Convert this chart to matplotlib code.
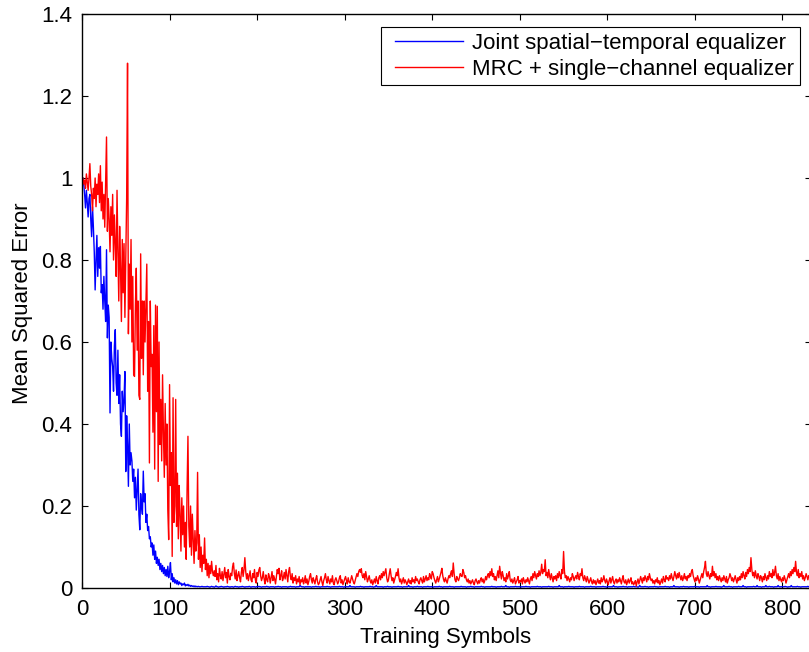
import numpy as np
import matplotlib
matplotlib.use("Agg")
import matplotlib.pyplot as plt
from matplotlib.lines import Line2D
from matplotlib.patches import Rectangle
from matplotlib.ticker import FuncFormatter, MultipleLocator

plt.rcParams['font.family'] = ['Liberation Sans', 'DejaVu Sans']

# Mean squared error per training symbol, stored in units of 1e-3
joint_transient = [
    1000, 985, 960, 927, 970, 940, 905, 950, 960, 900,
    857, 930, 880, 820, 727, 800, 860, 760, 830, 780,
    833, 720, 740, 680, 760, 700, 650, 825, 610, 690,
    660, 427, 600, 560, 540, 480, 590, 630, 500, 470,
    580, 450, 520, 400, 370, 480, 430, 460, 528, 284,
    420, 350, 248, 400, 300, 330, 310, 260, 290, 220,
    270, 190, 240, 290, 179, 142, 230, 200, 180, 285,
    210, 230, 160, 180, 140, 150, 120, 125, 100, 110,
    80, 105, 70, 90, 60, 75, 55, 70, 45, 60,
    40, 55, 35, 50, 30, 45, 28, 53, 25, 40,
    62, 20, 35, 15, 25, 12, 20, 10, 18, 8,
    15, 10, 12, 6, 10, 8, 12, 5, 8, 6,
    9, 5, 7, 4, 6, 4, 5, 3, 5, 3,
    4, 3, 4, 3, 3, 3, 4, 3, 3, 3,
]

joint_steady = [
    3, 3, 4, 3, 3, 2, 3, 4, 3, 3, 2, 3, 5, 3, 3, 2, 3, 3, 4, 3, 3, 2, 3, 3, 3, 4, 3, 3, 2, 3,
    3, 3, 2, 3, 4, 3, 3, 3, 2, 3, 3, 3, 4, 3, 3, 2, 3, 3, 3, 3, 4, 3, 2, 3, 3, 3, 3, 2, 3, 3,
    3, 4, 3, 3, 2, 3, 3, 3, 3, 3, 4, 3, 3, 2, 3, 3, 3, 3, 3, 2, 3, 3, 3, 4, 3, 3, 3, 2, 3, 3,
    3, 3, 3, 3, 2, 3, 3, 4, 3, 3, 3, 3, 3, 2, 3, 3, 3, 3, 6, 4, 3, 3, 3, 2, 3, 3, 3, 3, 3, 3,
    3, 2, 3, 3, 3, 3, 4, 3, 3, 3, 3, 2, 3, 3, 3, 3, 3, 3, 3, 4, 3, 3, 3, 2, 3, 3, 3, 3, 3, 3,
    3, 3, 3, 4, 3, 3, 3, 3, 2, 3, 3, 3, 3, 3, 3, 6, 3, 3, 3, 3, 3, 2, 3, 3, 3, 3, 3, 4, 3, 3,
    3, 2, 3, 3, 3, 3, 3, 3, 4, 3, 3, 3, 2, 3, 3, 6, 3, 3, 3, 3, 3, 3, 3, 2, 3, 3, 3, 3, 4, 3,
    3, 3, 3, 2, 3, 3, 3, 3, 3, 3, 4, 3, 3, 3, 3, 2, 3, 3, 3, 3, 3, 3, 6, 3, 3, 3, 3, 2, 3, 3,
    3, 3, 4, 3, 3, 3, 3, 3, 2, 3, 3, 3, 3, 3, 4, 3, 3, 3, 3, 3, 2, 3, 3, 3, 3, 3, 3, 4, 3, 3,
    3, 2, 3, 3, 3, 3, 3, 3, 3, 4, 3, 3, 3, 3, 2, 3, 3, 3, 3, 3, 3, 3, 4, 3, 3, 3, 3, 3, 2, 3,
    3, 3, 3, 4, 3, 3, 3, 2, 3, 3, 3, 3, 3, 3, 3, 4, 3, 3, 3, 2, 3, 3, 3, 3, 3, 3, 3, 4, 3, 3,
    3, 3, 2, 3, 3, 3, 3, 3, 4, 3, 3, 3, 3, 6, 3, 3, 3, 2, 3, 3, 3, 3, 3, 3, 4, 3, 3, 3, 3, 3,
    2, 3, 3, 3, 3, 3, 4, 3, 3, 3, 3, 2, 3, 3, 3, 3, 3, 3, 3, 4, 3, 3, 3, 3, 2, 3, 3, 3, 3, 3,
    3, 3, 4, 3, 3, 3, 3, 2, 3, 3, 3, 3, 3, 3, 6, 3, 3, 3, 3, 2, 3, 3, 3, 3, 3, 4, 3, 3, 3, 3,
    3, 2, 3, 3, 3, 3, 3, 4, 3, 3, 3, 3, 3, 2, 3, 3, 3, 3, 3, 3, 4, 3, 3, 3, 3, 3, 2, 3, 3, 3,
    3, 3, 3, 3, 4, 3, 3, 3, 2, 3, 3, 3, 3, 3, 3, 3, 6, 3, 3, 3, 3, 2, 3, 3, 3, 3, 3, 4, 3, 3,
    3, 3, 2, 3, 3, 3, 3, 3, 3, 4, 3, 3, 3, 3, 2, 3, 6, 3, 3, 3, 3, 3, 4, 3, 3, 3, 2, 3, 3, 3,
    3, 3, 3, 4, 3, 3, 3, 2, 3, 3, 3, 3, 3, 3, 3, 4, 3, 3, 3, 3, 2, 3, 3, 3, 3, 6, 3, 3, 3, 3,
    3, 2, 3, 3, 3, 3, 4, 3, 3, 3, 3, 3, 2, 3, 3, 3, 3, 3, 3, 4, 3, 3, 3, 3, 2, 3, 3, 3, 3, 3,
    3, 3, 3, 6, 3, 3, 3, 2, 3, 3, 3, 3, 3, 4, 3, 3, 3, 3, 3, 2, 3, 3, 6, 3, 3, 3, 3, 3, 4, 3,
    3, 3, 2, 3, 3, 3, 3, 3, 3, 4, 3, 3, 3, 3, 6, 3, 3, 3, 2, 3, 3, 3, 3, 3, 3, 3, 4, 3, 3, 3,
    6, 3, 3, 3, 3, 2, 3, 3, 3, 3, 6, 3, 3, 3, 4, 3, 3, 3, 3, 2, 3, 3, 3, 3, 6, 3, 3, 3, 3, 3,
    3, 3, 4, 3, 3, 2, 3, 3, 3, 6, 3, 3, 3, 3, 3, 3, 4, 3, 3, 3, 2, 3, 3, 3, 3, 3, 3, 3, 4, 3,
]

mrc_transient = [
    1000, 985, 995, 975, 1010, 990, 970, 1000, 1035, 980,
    960, 920, 975, 950, 1000, 930, 985, 960, 1010, 940,
    1030, 920, 990, 900, 960, 880, 985, 1100, 870, 950,
    900, 820, 930, 860, 960, 800, 910, 840, 760, 970,
    820, 700, 882, 780, 650, 850, 720, 840, 660, 800,
    950, 1280, 620, 790, 680, 850, 600, 760, 520, 516,
    690, 780, 580, 700, 470, 460, 815, 560, 700, 520,
    700, 600, 690, 790, 480, 650, 305, 700, 540, 570,
    380, 640, 290, 690, 430, 687, 260, 600, 350, 460,
    310, 520, 380, 270, 450, 300, 400, 190, 118, 496,
    250, 330, 77, 464, 160, 200, 460, 150, 280, 120,
    250, 180, 90, 220, 130, 200, 100, 160, 70, 240,
    370, 150, 100, 200, 80, 180, 120, 60, 140, 90,
    110, 282, 70, 130, 50, 100, 40, 80, 60, 122,
    45, 70, 30, 60, 25, 55, 35, 65, 40, 30,
]

mrc_steady = [
    42, 28, 55, 20, 35, 15, 48, 30, 22, 40, 18, 33, 50, 25, 38, 12, 45, 28, 20, 36,
    30, 52, 61, 35, 22, 44, 18, 30, 40, 25, 15, 38, 50, 28, 45, 74, 40, 22, 35, 18,
    30, 42, 20, 15, 35, 25, 45, 20, 12, 38, 28, 44, 50, 30, 18, 25, 40, 22, 10, 32,
    20, 15, 35, 28, 12, 25, 40, 18, 30, 22, 10, 28, 45, 35, 48, 20, 30, 42, 18, 25,
    38, 22, 45, 30, 15, 40, 50, 28, 20, 35, 12, 25, 18, 30, 10, 22, 15, 28, 8, 20,
    15, 25, 10, 18, 30, 12, 22, 8, 16, 28, 35, 20, 12, 25, 18, 10, 22, 30, 15, 8,
    12, 20, 28, 15, 6, 18, 25, 35, 20, 12, 28, 18, 10, 22, 15, 30, 12, 8, 20, 25,
    18, 10, 15, 25, 30, 12, 20, 8, 15, 22, 28, 18, 10, 25, 15, 12, 20, 30, 22, 14,
    10, 18, 25, 35, 28, 40, 45, 38, 47, 30, 25, 35, 20, 40, 28, 15, 22, 30, 18, 12,
    20, 8, 15, 22, 12, 28, 18, 10, 25, 30, 20, 35, 25, 40, 30, 38, 47, 25, 15, 20,
    35, 47, 30, 18, 25, 12, 20, 28, 38, 30, 47, 25, 15, 22, 10, 18, 25, 12, 20, 15,
    8, 15, 22, 12, 18, 10, 25, 15, 20, 12, 28, 18, 22, 15, 10, 20, 25, 18, 12, 28,
    15, 22, 30, 18, 25, 20, 35, 28, 22, 40, 35, 25, 18, 12, 20, 28, 15, 22, 30, 38,
    48, 30, 20, 15, 25, 18, 12, 22, 30, 25, 35, 42, 28, 61, 35, 20, 15, 28, 22, 18,
    25, 35, 30, 28, 45, 38, 25, 30, 20, 15, 22, 12, 18, 10, 15, 20, 12, 8, 18, 22,
    15, 10, 18, 12, 20, 25, 15, 22, 12, 18, 28, 20, 30, 35, 25, 40, 30, 47, 28, 35,
    20, 28, 18, 30, 42, 25, 53, 35, 22, 40, 30, 18, 25, 15, 35, 22, 30, 40, 20, 15,
    22, 12, 18, 25, 10, 15, 20, 28, 12, 18, 15, 22, 10, 25, 18, 12, 20, 15, 25, 18,
    10, 22, 28, 18, 35, 25, 40, 30, 22, 35, 28, 42, 30, 38, 58, 35, 45, 40, 69, 30,
    38, 25, 45, 30, 20, 35, 25, 15, 28, 22, 30, 18, 35, 25, 40, 30, 22, 45, 35, 89,
    40, 25, 30, 18, 28, 22, 15, 25, 20, 35, 28, 18, 25, 30, 22, 38, 28, 20, 35, 30,
    47, 25, 18, 30, 22, 15, 28, 20, 12, 18, 25, 15, 10, 20, 12, 18, 8, 15, 22, 12,
    18, 10, 25, 15, 20, 30, 18, 12, 22, 15, 8, 18, 25, 12, 20, 28, 15, 10, 18, 22,
    12, 20, 15, 25, 18, 10, 22, 30, 15, 12, 20, 8, 15, 22, 12, 18, 25, 10, 15, 8,
    12, 18, 5, 15, 22, 10, 18, 28, 20, 12, 25, 18, 30, 22, 15, 28, 20, 35, 25, 18,
    22, 12, 18, 10, 20, 15, 25, 12, 18, 8, 15, 22, 12, 28, 20, 15, 30, 22, 25, 18,
    30, 22, 35, 25, 18, 28, 40, 30, 22, 35, 25, 38, 28, 20, 30, 18, 25, 35, 22, 28,
    18, 30, 25, 35, 28, 40, 45, 30, 22, 15, 25, 18, 30, 22, 12, 20, 28, 35, 25, 40,
    50, 65, 35, 28, 40, 30, 22, 35, 28, 53, 30, 40, 25, 35, 20, 28, 18, 30, 22, 15,
    25, 18, 30, 22, 15, 28, 12, 20, 25, 35, 28, 18, 25, 15, 22, 30, 20, 12, 25, 18,
    28, 20, 35, 25, 40, 30, 22, 38, 28, 45, 35, 50, 40, 74, 45, 30, 38, 25, 42, 30,
    22, 35, 28, 18, 30, 25, 15, 28, 20, 35, 25, 18, 30, 22, 40, 28, 35, 25, 45, 30,
    38, 53, 30, 22, 35, 18, 28, 20, 15, 25, 18, 30, 22, 12, 20, 28, 35, 25, 40, 30,
    45, 35, 50, 40, 65, 38, 30, 45, 25, 35, 28, 40, 22, 30, 18, 25, 35, 28, 20, 30,
]

series_labels = ["Joint spatial\u2212temporal equalizer",
                 "MRC + single\u2212channel equalizer"]
series_colors = ["#0000ff", "#ff0000"]

joint_mse = np.array(joint_transient + joint_steady) / 1000.0
mrc_mse = np.array(mrc_transient + mrc_steady) / 1000.0
joint_sym = np.arange(1, len(joint_mse) + 1)
mrc_sym = np.arange(1, len(mrc_mse) + 1)

W, H = 809, 652
fig = plt.figure(figsize=(W / 100, H / 100), dpi=100)
fig.patch.set_facecolor("white")

left, right, top, bottom = 82.0, 810.5, 14.0, 588.0
ax = fig.add_axes([left / W, 1 - bottom / H, (right - left) / W, (bottom - top) / H])

ax.plot(joint_sym, joint_mse, color=series_colors[0], lw=1.0)
ax.plot(mrc_sym, mrc_mse, color=series_colors[1], lw=1.0)

ax.set_xlim(0, 832)
ax.set_ylim(0, 1.4)
ax.xaxis.set_major_locator(MultipleLocator(100))
ax.yaxis.set_major_locator(MultipleLocator(0.2))
ax.yaxis.set_major_formatter(FuncFormatter(lambda v, p: f"{v:g}"))
ax.xaxis.set_major_formatter(FuncFormatter(lambda v, p: f"{v:g}"))

for s in ax.spines.values():
    s.set_linewidth(1.0)
    s.set_color("black")

ax.tick_params(axis="both", which="major", direction="in", length=4.5, width=0.8,
               top=True, right=True, labelsize=16, colors="black")
ax.tick_params(axis="x", pad=8.2)
ax.tick_params(axis="y", pad=7.0)

ax.set_xlabel("Training Symbols", fontsize=16)
ax.set_ylabel("Mean Squared Error", fontsize=16)
ax.xaxis.set_label_coords(0.4997, (bottom - 626.7) / (bottom - top))
ax.yaxis.set_label_coords((32.7 - left) / (right - left), (bottom - 303) / (bottom - top))

handles = [Line2D([], [], color=c, lw=1.0) for c in series_colors]
leg = ax.legend(handles, series_labels, loc="upper left",
                bbox_to_anchor=(389.4 / W, 1 - 27 / H), bbox_transform=fig.transFigure,
                borderaxespad=0, borderpad=0.25, labelspacing=0.23,
                handlelength=3.06, handletextpad=0.39, frameon=False, fontsize=16)

# legend frame with a wider left margin
fig.canvas.draw()
bb = leg.get_window_extent()
x0, x1 = bb.x0 - 8.5, bb.x1 + 0.5
y0, y1 = bb.y0, bb.y1
frame = Rectangle((x0 / W, y0 / H), (x1 - x0) / W, (y1 - y0) / H,
                  transform=fig.transFigure, facecolor="white", edgecolor="black",
                  lw=0.8, zorder=4, clip_on=False)
ax.add_patch(frame)

fig.savefig("out.png", dpi=100, facecolor="white")
